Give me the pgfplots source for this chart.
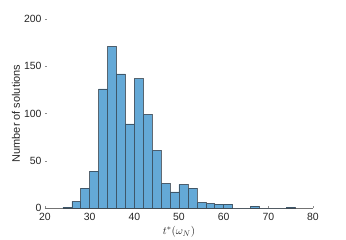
\documentclass[border=0pt]{standalone}
\usepackage{fontspec}
\setmainfont{Liberation Sans}
\usepackage{pgfplots}
\pgfplotsset{compat=1.18}
\definecolor{barfill}{RGB}{100,169,215}
\definecolor{baredge}{RGB}{50,60,70}
\definecolor{txt}{RGB}{38,38,38}
\begin{document}
\begin{tikzpicture}
\path[use as bounding box] (-45bp,-32bp) rectangle (301bp,208bp);
\begin{axis}[
  at={(0,0)}, anchor=south west,
  scale only axis, width=268bp, height=189bp,
  xmin=20, xmax=80, ymin=0, ymax=200,
  xtick={20,30,...,80}, ytick={0,50,...,200},
  separate axis lines,
  axis x line*=bottom, axis y line*=left,
  x axis line style={draw=black!55, -},
  y axis line style={draw=none},
  tick style={black!45, line width=0.4pt},
  major tick length=2bp,
  tick align=inside,
  /pgf/number format/assume math mode=true,
  ticklabel style={font=\fontsize{10.5}{12}\selectfont, text=txt},
  xticklabel style={yshift=-2bp},
  label style={font=\fontsize{11}{13}\selectfont, text=txt},
  ylabel={Number of solutions},
  xlabel={$t^{*}(\omega_N)$},
  ylabel style={at={(axis description cs:-0.108,0.5)}, anchor=center},
  xlabel style={at={(axis description cs:0.5,-0.127)}, anchor=center},
  clip=false,
]
\addplot[ybar interval, fill=barfill, draw=baredge, draw opacity=0.75, line width=0.5pt]
coordinates {
(24,1) (26,7) (28,21) (30,39) (32,126) (34,171) (36,142) (38,89)
(40,137) (42,99) (44,61) (46,26) (48,17) (50,25) (52,21) (54,6)
(56,5) (58,4) (60,4) (62,0) (64,0) (66,2) (68,0) (70,0) (72,0) (74,1) (76,1)
};
\end{axis}
\end{tikzpicture}
\end{document}
